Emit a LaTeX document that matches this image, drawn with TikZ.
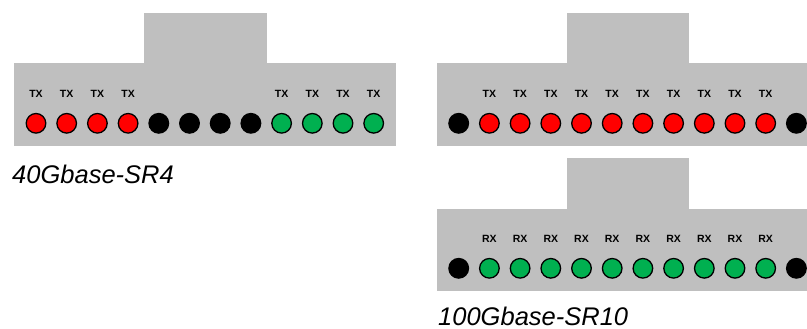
\documentclass[tikz,border=0pt]{standalone}
\usepackage{fontspec}
\setmainfont{Liberation Sans}
\usetikzlibrary{positioning}
\definecolor{conngray}{RGB}{191,191,191}
\definecolor{rxgreen}{RGB}{0,176,80}
\begin{document}
\begin{tikzpicture}[x=1pt, y=-1pt,
body_style/.style={fill=conngray},
port_style/.style={circle, draw=black, line width=1.3pt, minimum size=19.6pt, inner sep=0pt},
tx_port/.style={port_style, fill=red},
rx_port/.style={port_style, fill=rxgreen},
dark_port/.style={port_style, fill=black},
lane_style/.style={font=\bfseries\fontsize{10.5}{12}\selectfont, inner sep=0pt},
name_style/.style={font=\itshape\fontsize{25.5}{30}\selectfont, anchor=base west, inner sep=0pt}]
\useasboundingbox (0,0) rectangle (807,329);
% 40G connector
\fill[body_style] (144,12.7) rectangle (266.7,63);
\fill[body_style] (14.3,63) rectangle (396,145.7);
\foreach \i in {1,...,4} \node[tx_port] (a\i) at ({36+30.7*(\i-1)},123.3) {};
\foreach \i in {5,...,8} \node[dark_port] (a\i) at ({36+30.7*(\i-1)},123.3) {};
\foreach \i in {9,...,12} \node[rx_port] (a\i) at ({36+30.7*(\i-1)},123.3) {};
\foreach \i in {1,2,3,4,9,10,11,12} \node[lane_style, above=15pt of a\i] (ta\i) {TX};
\node[name_style] (sr4) at (12,183.3) {40Gbase-SR4};
% 100G connector, transmit row
\fill[body_style] (566.7,13) rectangle (689,63.3);
\fill[body_style] (437.3,63.3) rectangle (807,145.7);
\foreach \i in {1,12} \node[dark_port] (b\i) at ({458.7+30.7*(\i-1)},123.3) {};
\foreach \i in {2,...,11} {
  \node[tx_port] (b\i) at ({458.7+30.7*(\i-1)},123.3) {};
  \node[lane_style, above=15pt of b\i] (tb\i) {TX};
}
% 100G connector, receive row
\fill[body_style] (566.7,158.3) rectangle (689,209);
\fill[body_style] (437.3,209) rectangle (807,290.7);
\foreach \i in {1,12} \node[dark_port] (c\i) at ({458.7+30.7*(\i-1)},268.3) {};
\foreach \i in {2,...,11} {
  \node[rx_port] (c\i) at ({458.7+30.7*(\i-1)},268.3) {};
  \node[lane_style, above=15pt of c\i] (rc\i) {RX};
}
\node[name_style] (sr10) at (438,325) {100Gbase-SR10};
\end{tikzpicture}
\end{document}
